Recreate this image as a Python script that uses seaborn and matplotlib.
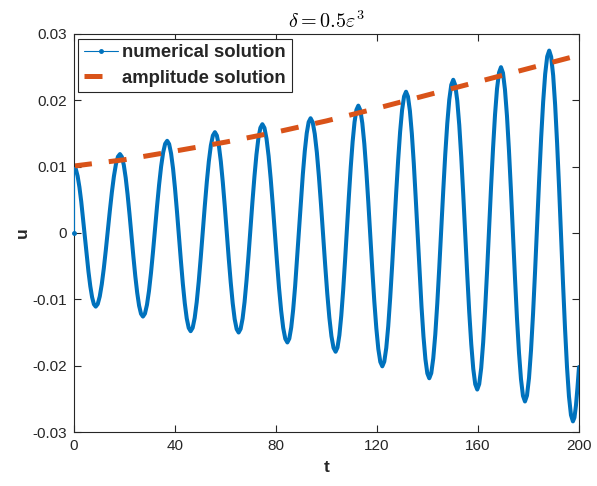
import numpy as np
import matplotlib
matplotlib.use('Agg')
import matplotlib.pyplot as plt
from matplotlib.lines import Line2D
import seaborn as sns
import pandas as pd

# ---------------- data ----------------
# numerical solution: first sample (0, 0), then the oscillation.
# One row per half-cycle (extremum first); u values in units of 1e-3.
t_num = [0.0,
         0.0, 0.72, 1.43, 2.15, 2.87, 3.58, 4.30, 5.02, 5.73, 6.45, 7.17, 7.88,
         8.6, 9.4, 10.2, 11.0, 11.8, 12.6, 13.4, 14.2, 15.0, 15.8, 16.6, 17.4,
         18.2, 18.96, 19.72, 20.48, 21.23, 21.99, 22.75, 23.51, 24.27, 25.03, 25.78, 26.54,
         27.3, 28.1, 28.9, 29.7, 30.5, 31.3, 32.1, 32.9, 33.7, 34.5, 35.3, 36.1,
         36.9, 37.68, 38.45, 39.23, 40.0, 40.78, 41.55, 42.33, 43.1, 43.88, 44.65, 45.43,
         46.2, 47.0, 47.8, 48.6, 49.4, 50.2, 51.0, 51.8, 52.6, 53.4, 54.2, 55.0,
         55.8, 56.58, 57.37, 58.15, 58.93, 59.72, 60.5, 61.28, 62.07, 62.85, 63.63, 64.42,
         65.2, 65.98, 66.77, 67.55, 68.33, 69.12, 69.9, 70.68, 71.47, 72.25, 73.03, 73.82,
         74.6, 75.43, 76.25, 77.08, 77.9, 78.73, 79.55, 80.38, 81.2, 82.03, 82.85, 83.68,
         84.5, 85.27, 86.03, 86.8, 87.57, 88.33, 89.1, 89.87, 90.63, 91.4, 92.17, 92.93,
         93.7, 94.53, 95.35, 96.18, 97.0, 97.83, 98.65, 99.48, 100.3, 101.13, 101.95, 102.78,
         103.6, 104.35, 105.1, 105.85, 106.6, 107.35, 108.1, 108.85, 109.6, 110.35, 111.1, 111.85,
         112.6, 113.39, 114.18, 114.98, 115.77, 116.56, 117.35, 118.14, 118.93, 119.73, 120.52, 121.31,
         122.1, 122.88, 123.67, 124.45, 125.23, 126.02, 126.8, 127.58, 128.37, 129.15, 129.93, 130.72,
         131.5, 132.27, 133.03, 133.8, 134.57, 135.33, 136.1, 136.87, 137.63, 138.4, 139.17, 139.93,
         140.7, 141.49, 142.28, 143.08, 143.87, 144.66, 145.45, 146.24, 147.03, 147.83, 148.62, 149.41,
         150.2, 150.99, 151.78, 152.58, 153.37, 154.16, 154.95, 155.74, 156.53, 157.33, 158.12, 158.91,
         159.7, 160.48, 161.27, 162.05, 162.83, 163.62, 164.4, 165.18, 165.97, 166.75, 167.53, 168.32,
         169.1, 169.89, 170.68, 171.48, 172.27, 173.06, 173.85, 174.64, 175.43, 176.23, 177.02, 177.81,
         178.6, 179.4, 180.2, 181.0, 181.8, 182.6, 183.4, 184.2, 185.0, 185.8, 186.6, 187.4,
         188.2, 188.98, 189.77, 190.55, 191.33, 192.12, 192.9, 193.68, 194.47, 195.25, 196.03, 196.82,
         197.6, 198.2, 198.8, 199.4, 200.0]
u_num_milli = [0.0,
               10.0, 9.64, 8.59, 6.91, 4.73, 2.18, -0.55, -3.28, -5.83, -8.01, -9.69, -10.74,
               -11.1, -10.71, -9.56, -7.73, -5.35, -2.58, 0.40, 3.38, 6.15, 8.53, 10.36, 11.51,
               11.9, 11.48, 10.26, 8.31, 5.78, 2.82, -0.35, -3.52, -6.48, -9.01, -10.96, -12.18,
               -12.6, -12.15, -10.82, -8.72, -5.98, -2.78, 0.65, 4.08, 7.28, 10.02, 12.12, 13.45,
               13.9, 13.41, 11.98, 9.70, 6.73, 3.26, -0.45, -4.16, -7.63, -10.60, -12.88, -14.31,
               -14.8, -14.29, -12.79, -10.41, -7.30, -3.68, 0.20, 4.08, 7.70, 10.81, 13.19, 14.69,
               15.2, 14.69, 13.18, 10.78, 7.65, 4.01, 0.10, -3.81, -7.45, -10.58, -12.98, -14.49,
               -15.0, -14.46, -12.90, -10.40, -7.15, -3.36, 0.70, 4.76, 8.55, 11.80, 14.30, 15.86,
               16.4, 15.84, 14.20, 11.58, 8.18, 4.21, -0.05, -4.31, -8.28, -11.68, -14.30, -15.94,
               -16.5, -15.92, -14.24, -11.55, -8.05, -3.97, 0.40, 4.77, 8.85, 12.35, 15.04, 16.72,
               17.3, 16.70, 14.94, 12.15, 8.50, 4.25, -0.30, -4.85, -9.10, -12.75, -15.54, -17.30,
               -17.9, -17.27, -15.41, -12.47, -8.63, -4.15, 0.65, 5.45, 9.93, 13.77, 16.71, 18.57,
               19.2, 18.53, 16.57, 13.44, 9.38, 4.64, -0.45, -5.54, -10.28, -14.34, -17.47, -19.43,
               -20.1, -19.39, -17.33, -14.04, -9.75, -4.76, 0.60, 5.96, 10.95, 15.24, 18.53, 20.59,
               21.3, 20.56, 18.41, 14.97, 10.50, 5.29, -0.30, -5.89, -11.10, -15.57, -19.01, -21.16,
               -21.9, -21.13, -18.89, -15.31, -10.65, -5.22, 0.60, 6.42, 11.85, 16.51, 20.09, 22.33,
               23.1, 22.30, 19.97, 16.26, 11.43, 5.79, -0.25, -6.29, -11.93, -16.76, -20.47, -22.80,
               -23.6, -22.77, -20.34, -16.48, -11.45, -5.59, 0.70, 6.99, 12.85, 17.88, 21.74, 24.17,
               25.0, 24.14, 21.62, 17.62, 12.40, 6.32, -0.20, -6.72, -12.80, -18.02, -22.02, -24.54,
               -25.4, -24.50, -21.86, -17.65, -12.18, -5.80, 1.05, 7.90, 14.28, 19.75, 23.96, 26.60,
               27.5, 26.55, 23.75, 19.31, 13.53, 6.78, -0.45, -7.68, -14.43, -20.21, -24.65, -27.45,
               -28.4, -27.82, -26.0, -23.3, -20.2]

# amplitude solution
t_amp = [0, 20, 40, 60, 80, 100, 120, 140, 160, 180, 200]
u_amp_milli = [10.1, 11.05, 12.35, 13.7, 15.2, 16.9, 18.8, 20.8, 22.8, 24.8, 26.8]

x_ticks = [0, 40, 80, 120, 160, 200]
x_tick_labels = ['0', '40', '80', '120', '160', '200']
y_ticks = [-0.03, -0.02, -0.01, 0.0, 0.01, 0.02, 0.03]
y_tick_labels = ['-0.03', '-0.02', '-0.01', '0', '0.01', '0.02', '0.03']
legend_labels = ['numerical solution', 'amplitude solution']
title_text = r'$\delta = 0.5\varepsilon^3$'
x_label = 't'
y_label = 'u'

# ---------------- styling ----------------
sns.set_style('ticks')
plt.rcParams['font.family'] = ['Liberation Sans', 'DejaVu Sans']
plt.rcParams['mathtext.fontset'] = 'cm'

blue = '#0072BD'
orange = '#D95319'
dark = '#262626'

df_num = pd.DataFrame({'t': t_num, 'u': np.array(u_num_milli) * 1e-3})
df_amp = pd.DataFrame({'t': t_amp, 'u': np.array(u_amp_milli) * 1e-3})

fig = plt.figure(figsize=(5.97, 4.86), dpi=100)
ax = fig.add_axes([74 / 597, 1 - 432 / 486, 505 / 597, 398 / 486])

# main oscillation (thick)
sns.lineplot(data=df_num.iloc[1:], x='t', y='u', sort=False, estimator=None,
             color=blue, lw=2.9, ax=ax, legend=False)
# initial jump from the first sample (thin, with marker)
ax.plot(df_num['t'].iloc[:2], df_num['u'].iloc[:2], color=blue, lw=0.8,
        zorder=3, clip_on=False)
ax.plot(df_num['t'].iloc[:1], df_num['u'].iloc[:1], color=blue, marker='.',
        ms=5, lw=0, clip_on=False, zorder=3)

# amplitude (thick dashed)
sns.lineplot(data=df_amp, x='t', y='u', sort=False, estimator=None,
             color=orange, lw=3.6, ax=ax, legend=False)
ax.lines[-1].set_linestyle((0, (3.6, 3.4)))
ax.lines[-1].set_dash_capstyle('butt')
ax.lines[-1].set_zorder(2.2)

ax.set_xlim(0, 200)
ax.set_ylim(-0.03, 0.03)
ax.set_xticks(x_ticks)
ax.set_xticklabels(x_tick_labels)
ax.set_yticks(y_ticks)
ax.set_yticklabels(y_tick_labels)
ax.tick_params(direction='in', top=True, right=True, length=5, width=0.8,
               colors=dark, labelsize=11, pad=5)
for sp in ax.spines.values():
    sp.set_visible(True)
    sp.set_color(dark)
    sp.set_linewidth(0.8)

ax.set_xlabel(x_label, fontsize=12.5, fontweight='bold', color=dark, labelpad=5)
ax.set_ylabel(y_label, fontsize=12.5, fontweight='bold', color=dark, labelpad=1.5)
ax.set_title(title_text, fontsize=14.5, color='black', pad=4)

handles = [Line2D([0], [0], color=blue, lw=0.8, marker='.', ms=5),
           Line2D([0], [0], color=orange, lw=3.6, linestyle=(0, (3.6, 3.4)),
                  dash_capstyle='butt')]
leg = ax.legend(handles, legend_labels, loc='upper left',
                bbox_to_anchor=(0.008, 0.988), borderaxespad=0,
                prop={'weight': 'bold', 'size': 13.3}, frameon=True,
                fancybox=False, framealpha=1, edgecolor=dark,
                handlelength=1.85, handletextpad=0.25, borderpad=0.3,
                labelspacing=0.45)
leg.get_frame().set_linewidth(0.8)
leg.set_zorder(5)

fig.savefig('out.png', dpi=100)
